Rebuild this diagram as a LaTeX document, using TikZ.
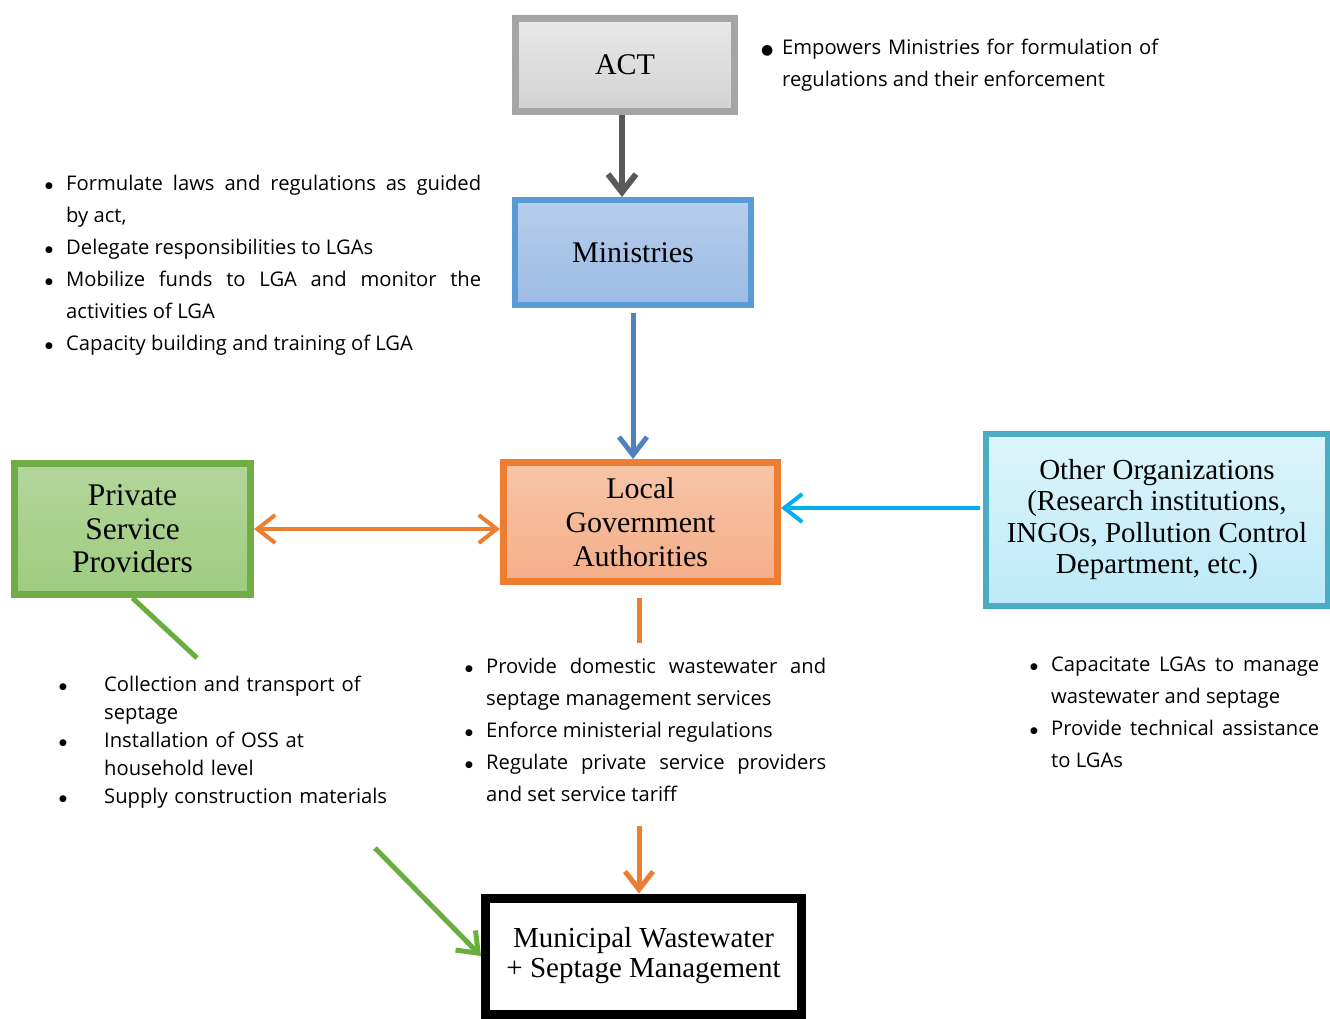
\documentclass[tikz,border=0pt]{standalone}
\usepackage{fontspec}
\setmainfont{Liberation Serif}
\newfontfamily\bodysans{Open Sans}
\newfontfamily\symfont{DejaVu Sans}
\usetikzlibrary{arrows.meta,shadows,calc}
\definecolor{actBorder}{HTML}{A5A5A5}
\definecolor{actTop}{HTML}{E8E8E8}
\definecolor{actBot}{HTML}{D2D2D2}
\definecolor{minBorder}{HTML}{5B9BD5}
\definecolor{minTop}{HTML}{B7CDEC}
\definecolor{minBot}{HTML}{9CBBE4}
\definecolor{lgaBorder}{HTML}{ED7D31}
\definecolor{lgaTop}{HTML}{F7C5A8}
\definecolor{lgaBot}{HTML}{F4AE88}
\definecolor{privBorder}{HTML}{70AD47}
\definecolor{privTop}{HTML}{B3D69B}
\definecolor{privBot}{HTML}{9FCB80}
\definecolor{othBorder}{HTML}{4BACC6}
\definecolor{othTop}{HTML}{DDF4FB}
\definecolor{othBot}{HTML}{BDEAF8}
\definecolor{arrGray}{HTML}{595959}
\definecolor{arrBlue}{HTML}{4F81BD}
\definecolor{arrOrange}{HTML}{ED7D31}
\definecolor{arrCyan}{HTML}{00B0F0}
\definecolor{arrGreen}{HTML}{6AAE3F}
\newlength{\bhang}
\newcommand{\bsize}{9}
\newcommand{\braise}{2pt}
\newcommand{\bdot}{\raisebox{\braise}{\symfont\fontsize{\bsize}{\bsize}\selectfont ●}}
\newcommand{\bitem}[1]{\par\hangindent=\bhang\hangafter=1\noindent\makebox[\bhang][l]{\bdot}#1\par}
\begin{document}
\begin{tikzpicture}[x=1pt,y=-1pt,
  boxnode/.style={rectangle, inner sep=0pt, align=center,
    drop shadow={shadow xshift=3pt, shadow yshift=3pt, opacity=0.3, fill=black}},
  bodytxt/.style={inner sep=0pt, anchor=north west, font=\bodysans\fontsize{20.2}{32}\selectfont},
  barb/.style={-{Straight Barb[length=18pt,width=28pt]}},
  dbarb/.style={{Straight Barb[length=18pt,width=28pt]}-{Straight Barb[length=18pt,width=28pt]}}
]
\useasboundingbox (0,0) rectangle (1330,1018);

% boxes
\node[boxnode, draw=actBorder, line width=7pt, top color=actTop, bottom color=actBot,
  minimum width=219pt, minimum height=93pt, font=\fontsize{30}{34}\selectfont] (act) at (625,65) {ACT};
\node[boxnode, draw=minBorder, line width=6pt, top color=minTop, bottom color=minBot,
  minimum width=236pt, minimum height=105pt, font=\fontsize{30}{34}\selectfont] (min) at (633,252.5) {Ministries};
\node[boxnode, draw=lgaBorder, line width=7pt, top color=lgaTop, bottom color=lgaBot,
  minimum width=274pt, minimum height=119pt, font=\fontsize{30}{34}\selectfont] (lga) at (640.5,522) {Local\\Government\\Authorities};
\node[boxnode, draw=privBorder, line width=7pt, top color=privTop, bottom color=privBot,
  minimum width=236pt, minimum height=131pt, font=\fontsize{31.5}{33.5}\selectfont] (priv) at (132.5,529) {Private\\Service\\Providers};
\node[boxnode, draw=othBorder, line width=6pt, top color=othTop, bottom color=othBot,
  minimum width=342pt, minimum height=172pt, font=\fontsize{29}{31.5}\selectfont] (oth) at (1157,519.5) {Other Organizations\\(Research institutions,\\INGOs, Pollution Control\\Department, etc.)};
\node[boxnode, draw=black, line width=9pt, fill=white,
  minimum width=316pt, minimum height=116pt, font=\fontsize{29}{30}\selectfont] (mw) at (643.5,956) {Municipal Wastewater\\+ Septage Management};

% connectors
\coordinate (actOut) at ($(act.south)+(-3,0)$);
\draw[barb, arrGray, line width=6pt] (actOut) -- (actOut |- min.north);
\draw[barb, arrBlue, line width=5pt, shorten <=5pt] (min.south) -- (min.south |- lga.north);
\draw[dbarb, arrOrange, line width=4pt] (priv.east) -- (priv.east -| lga.west);
\coordinate (othIn) at ($(oth.west)+(-3,-11.5)$);
\draw[barb, arrCyan, line width=4pt] (othIn) -- (othIn -| lga.east);
\coordinate (lgaStubEnd) at ($(lga.south)+(-1.5,58)$);
\draw[arrOrange, line width=5pt, shorten <=13pt] (lga.south -| lgaStubEnd) -- (lgaStubEnd);
\coordinate (mwIn) at ($(mw.north)+(-4.5,-68)$);
\draw[barb, arrOrange, line width=5pt] (mwIn) -- (mwIn |- mw.north);
\coordinate (greenEnd) at ($(priv.south)+(64.5,60)$);
\draw[arrGreen, line width=5pt] (priv.south) -- (greenEnd);
\coordinate (greenStart) at ($(mw.west)+(-106,-108)$);
\draw[barb, arrGreen, line width=5pt] (greenStart) -- (mw.west);

% text blocks
\node[bodytxt, text width=397pt, align=justify] (tAct) at (761,22.5) {\setlength{\bhang}{21pt}\renewcommand{\bsize}{14}\renewcommand{\braise}{0.5pt}%
\bitem{Empowers Ministries for formulation of\linebreak regulations and their enforcement}};
\node[bodytxt, text width=436pt, align=justify] (tMin) at (45,158.5) {\setlength{\bhang}{21pt}%
\bitem{Formulate laws and regulations as guided\linebreak by act,}
\bitem{Delegate responsibilities to LGAs}
\bitem{Mobilize funds to LGA and monitor the\linebreak activities of LGA}
\bitem{Capacity building and training of LGA}};
\node[bodytxt, text width=340pt, align=left, font=\bodysans\fontsize{20.2}{28}\selectfont] (tPriv) at (59,663.5) {\setlength{\bhang}{45pt}%
\bitem{Collection and transport of\linebreak septage}
\bitem{Installation of OSS at\linebreak household level}
\bitem{Supply construction materials}};
\node[bodytxt, text width=361pt, align=justify] (tLga) at (465,641.5) {\setlength{\bhang}{21pt}%
\bitem{Provide domestic wastewater and\linebreak septage management services}
\bitem{Enforce ministerial regulations}
\bitem{Regulate private service providers\linebreak and set service tariff}};
\node[bodytxt, text width=289pt, align=justify] (tOth) at (1030,639.5) {\setlength{\bhang}{21pt}%
\bitem{Capacitate LGAs to manage\linebreak wastewater and septage}
\bitem{Provide technical assistance\linebreak to LGAs}};
\end{tikzpicture}
\end{document}
